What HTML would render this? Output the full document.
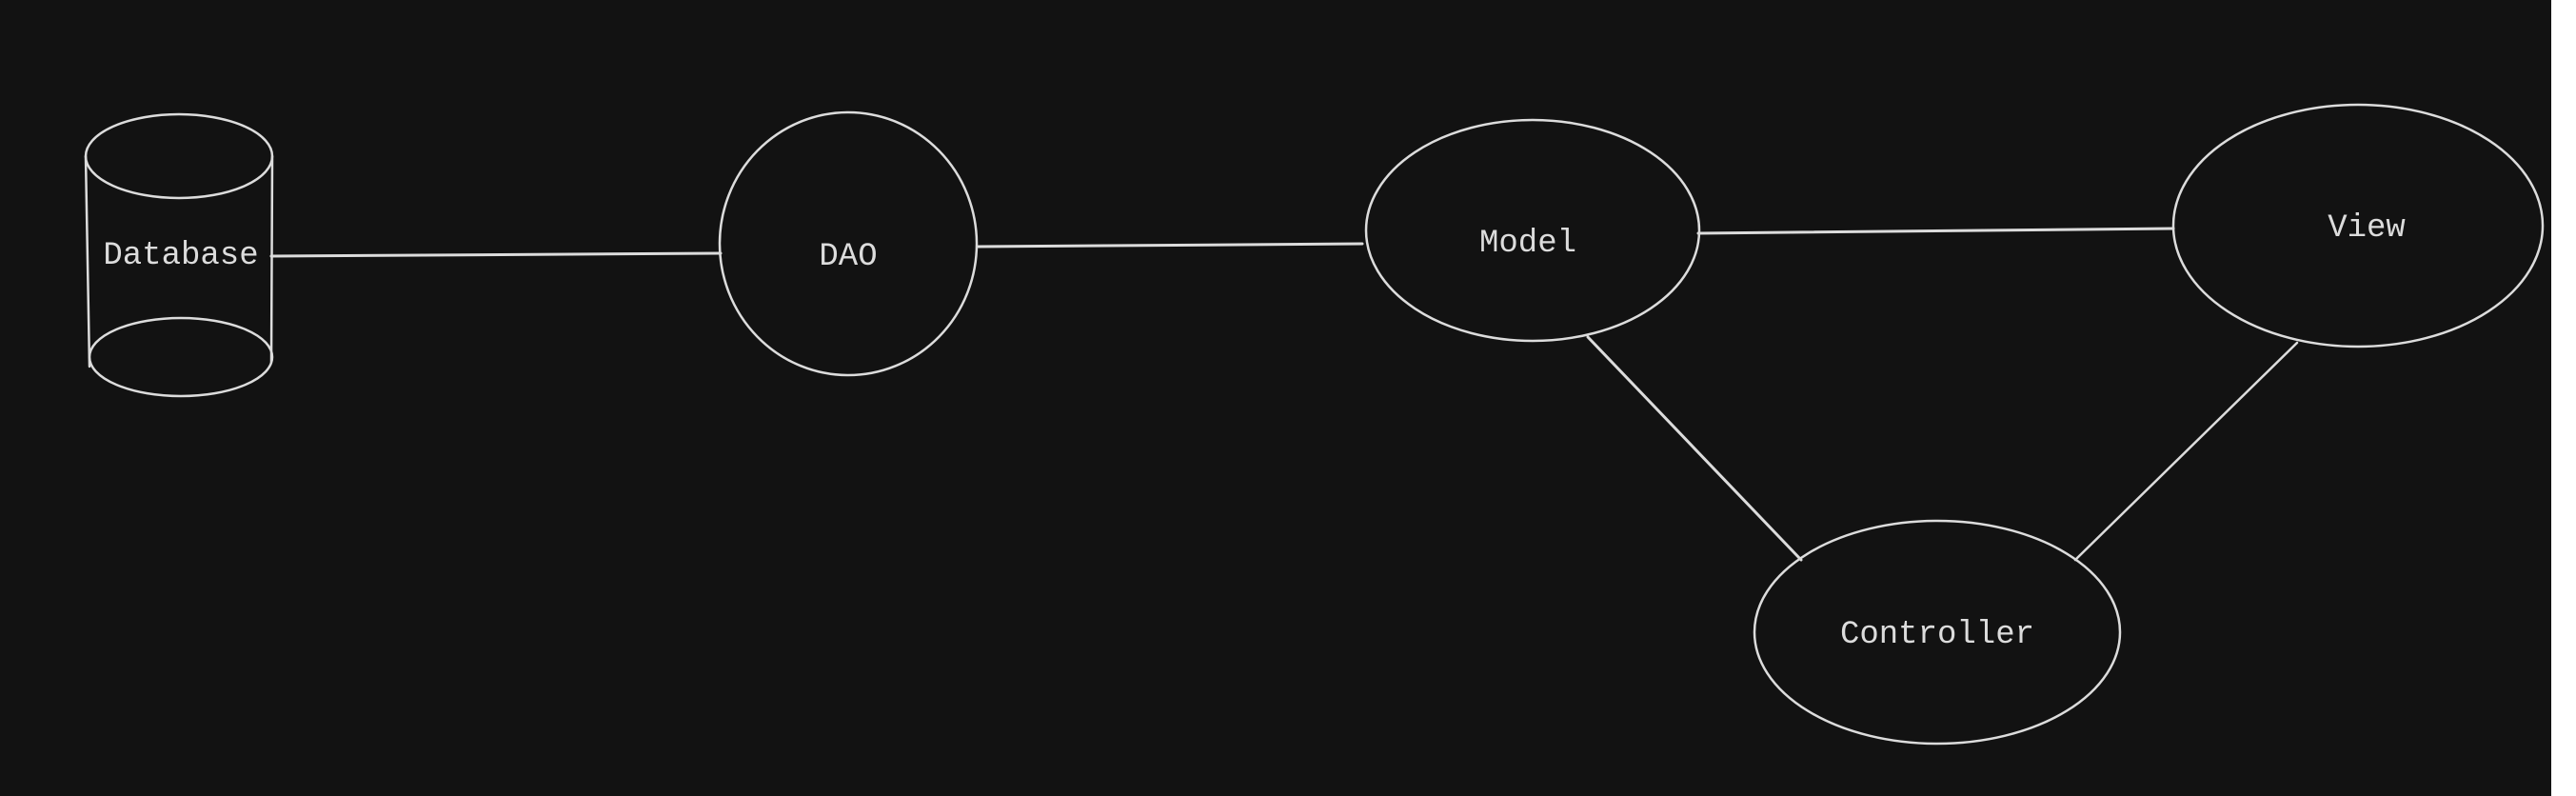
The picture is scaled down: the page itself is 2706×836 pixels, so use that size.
<!DOCTYPE html>
<html><head><meta charset="utf-8"><style>
html,body{margin:0;padding:0;background:#fff;}
svg{display:block;}
text{font-family:"Liberation Mono",monospace;font-size:34px;fill:#dcdcdc;text-anchor:middle;dominant-baseline:middle;}
</style></head><body>
<svg width="2706" height="836" viewBox="0 0 2706 836" xmlns="http://www.w3.org/2000/svg">
<rect x="0" y="0" width="2680" height="836" fill="#121212"/>
<g fill="none" stroke="#dcdcdc" stroke-width="2.5" stroke-linecap="round">
<!-- cylinder -->
<ellipse cx="188" cy="164" rx="98" ry="44"/>
<ellipse cx="190" cy="375" rx="96" ry="41"/>
<line x1="90" y1="164" x2="94" y2="385"/>
<line x1="286" y1="164" x2="285" y2="380"/>
<!-- nodes -->
<ellipse cx="891" cy="256" rx="135" ry="138"/>
<ellipse cx="1610" cy="242" rx="175" ry="116"/>
<ellipse cx="2477" cy="237" rx="194" ry="127"/>
<ellipse cx="2035" cy="664" rx="192" ry="117"/>
<!-- connectors -->
<line x1="285" y1="269" x2="757" y2="266" stroke-width="3"/>
<line x1="1027" y1="259" x2="1431" y2="256" stroke-width="3"/>
<line x1="1784" y1="245" x2="2283" y2="240" stroke-width="3"/>
<line x1="1668" y1="354" x2="1892" y2="588" stroke-width="3"/>
<line x1="2413" y1="360" x2="2180" y2="588"/>
</g>
<text x="190" y="268">Database</text>
<text x="891" y="269">DAO</text>
<text x="1605" y="255">Model</text>
<text x="2486" y="239">View</text>
<text x="2035" y="666">Controller</text>
</svg>
</body></html>
